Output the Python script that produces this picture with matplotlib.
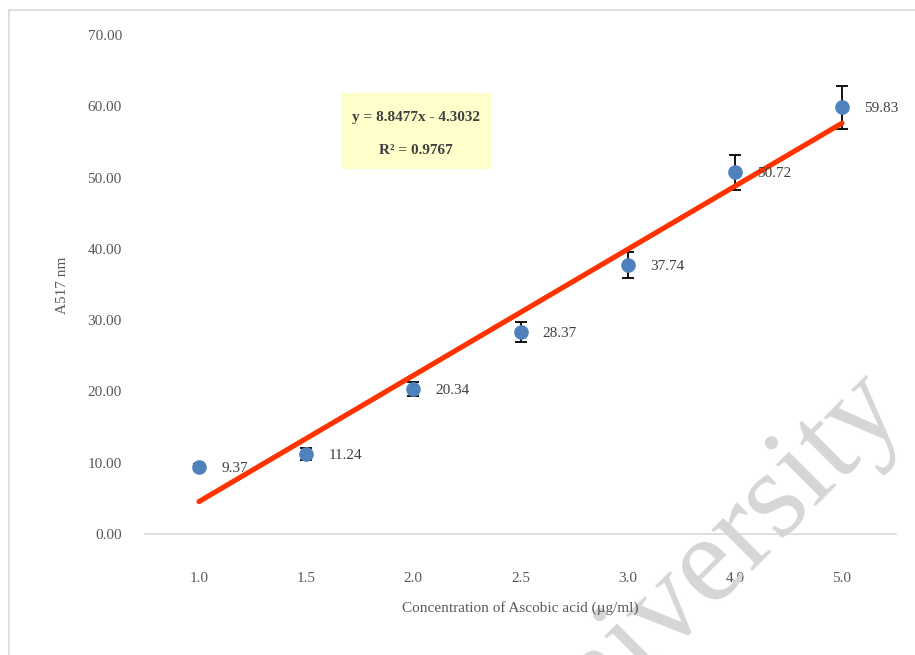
import numpy as np
import matplotlib
matplotlib.use('Agg')
import matplotlib.pyplot as plt
from matplotlib.patches import Rectangle

plt.rcParams['font.family'] = ['Liberation Serif', 'DejaVu Serif']

# data
conc_labels = ['1.0', '1.5', '2.0', '2.5', '3.0', '4.0', '5.0']
absorbance = [9.37, 11.24, 20.34, 28.37, 37.74, 50.72, 59.83]
err = [0.4, 0.8, 1.0, 1.4, 1.8, 2.5, 3.05]
y_ticks = [0, 10, 20, 30, 40, 50, 60, 70]
eq_text = 'y = 8.8477x - 4.3032'
r2_text = 'R² = 0.9767'

W, H = 915, 655
fig = plt.figure(figsize=(W / 100, H / 100), dpi=100)
ax = fig.add_axes([145.4 / W, 1 - 534 / H, (895.6 - 145.4) / W, (534 - 35) / H])

x = np.arange(1, len(conc_labels) + 1)

# trendline (excel linear fit over category index)
slope, icpt = np.polyfit(x, absorbance, 1)
ax.plot([x[0], x[-1]], [slope * x[0] + icpt, slope * x[-1] + icpt],
        color='#FF3300', lw=3.7, solid_capstyle='round', zorder=3)

ax.errorbar(x, absorbance, yerr=err, fmt='none', ecolor='black',
            elinewidth=1.3, capsize=4.2, capthick=1.3, zorder=2)
ax.plot(x, absorbance, 'o', color='#4F81BD', ms=9.5, zorder=4)

for xi, yi in zip(x, absorbance):
    ax.annotate(f'{yi:.2f}', (xi, yi), xytext=(16, -1), textcoords='offset points',
                ha='left', va='center', fontsize=11, color='#404040', zorder=5)

ax.set_xlim(0.5, len(conc_labels) + 0.5)
ax.set_ylim(0, 70)
ax.set_xticks(x)
ax.set_xticklabels(conc_labels)
ax.set_yticks(y_ticks)
ax.set_yticklabels([f'{v:.2f}' for v in y_ticks])
ax.tick_params(length=0, labelsize=11, labelcolor='#595959')
ax.tick_params(axis='x', pad=27)
ax.tick_params(axis='y', pad=17)
for s in ['top', 'right', 'left']:
    ax.spines[s].set_visible(False)
ax.spines['bottom'].set_color('#D9D9D9')
ax.spines['bottom'].set_linewidth(1.2)

fig.text(520 / W, 1 - 608 / H, 'Concentration of Ascobic acid (µg/ml)',
         ha='center', va='center', fontsize=11, color='#595959')
fig.text(63 / W, 1 - 285 / H, 'A517 nm', rotation=90,
         ha='center', va='center', fontsize=11, color='#595959')

# equation box
fig.patches.append(Rectangle((341 / W, 1 - 169 / H), 150 / W, 76 / H,
                             transform=fig.transFigure, facecolor='#FFFFCC',
                             edgecolor='none', zorder=1))
fig.text(416 / W, 1 - 118 / H, eq_text, ha='center', va='center',
         fontsize=11, fontweight='bold', color='#404040')
fig.text(416 / W, 1 - 151 / H, r2_text, ha='center', va='center',
         fontsize=11, fontweight='bold', color='#404040')

# chart border
fig.patches.append(Rectangle((9 / W, -0.05), 1.1, 1 - 10 / H + 0.05,
                             transform=fig.transFigure, facecolor='none',
                             edgecolor='#D9D9D9', lw=1.2, zorder=0))

# watermark
fig.text(886 / W, 1 - 392 / H, 'University', rotation=45, rotation_mode='anchor',
         ha='right', va='center', fontsize=90, color='#D6D6D6', zorder=0.5)

fig.savefig('out.png', dpi=100)
